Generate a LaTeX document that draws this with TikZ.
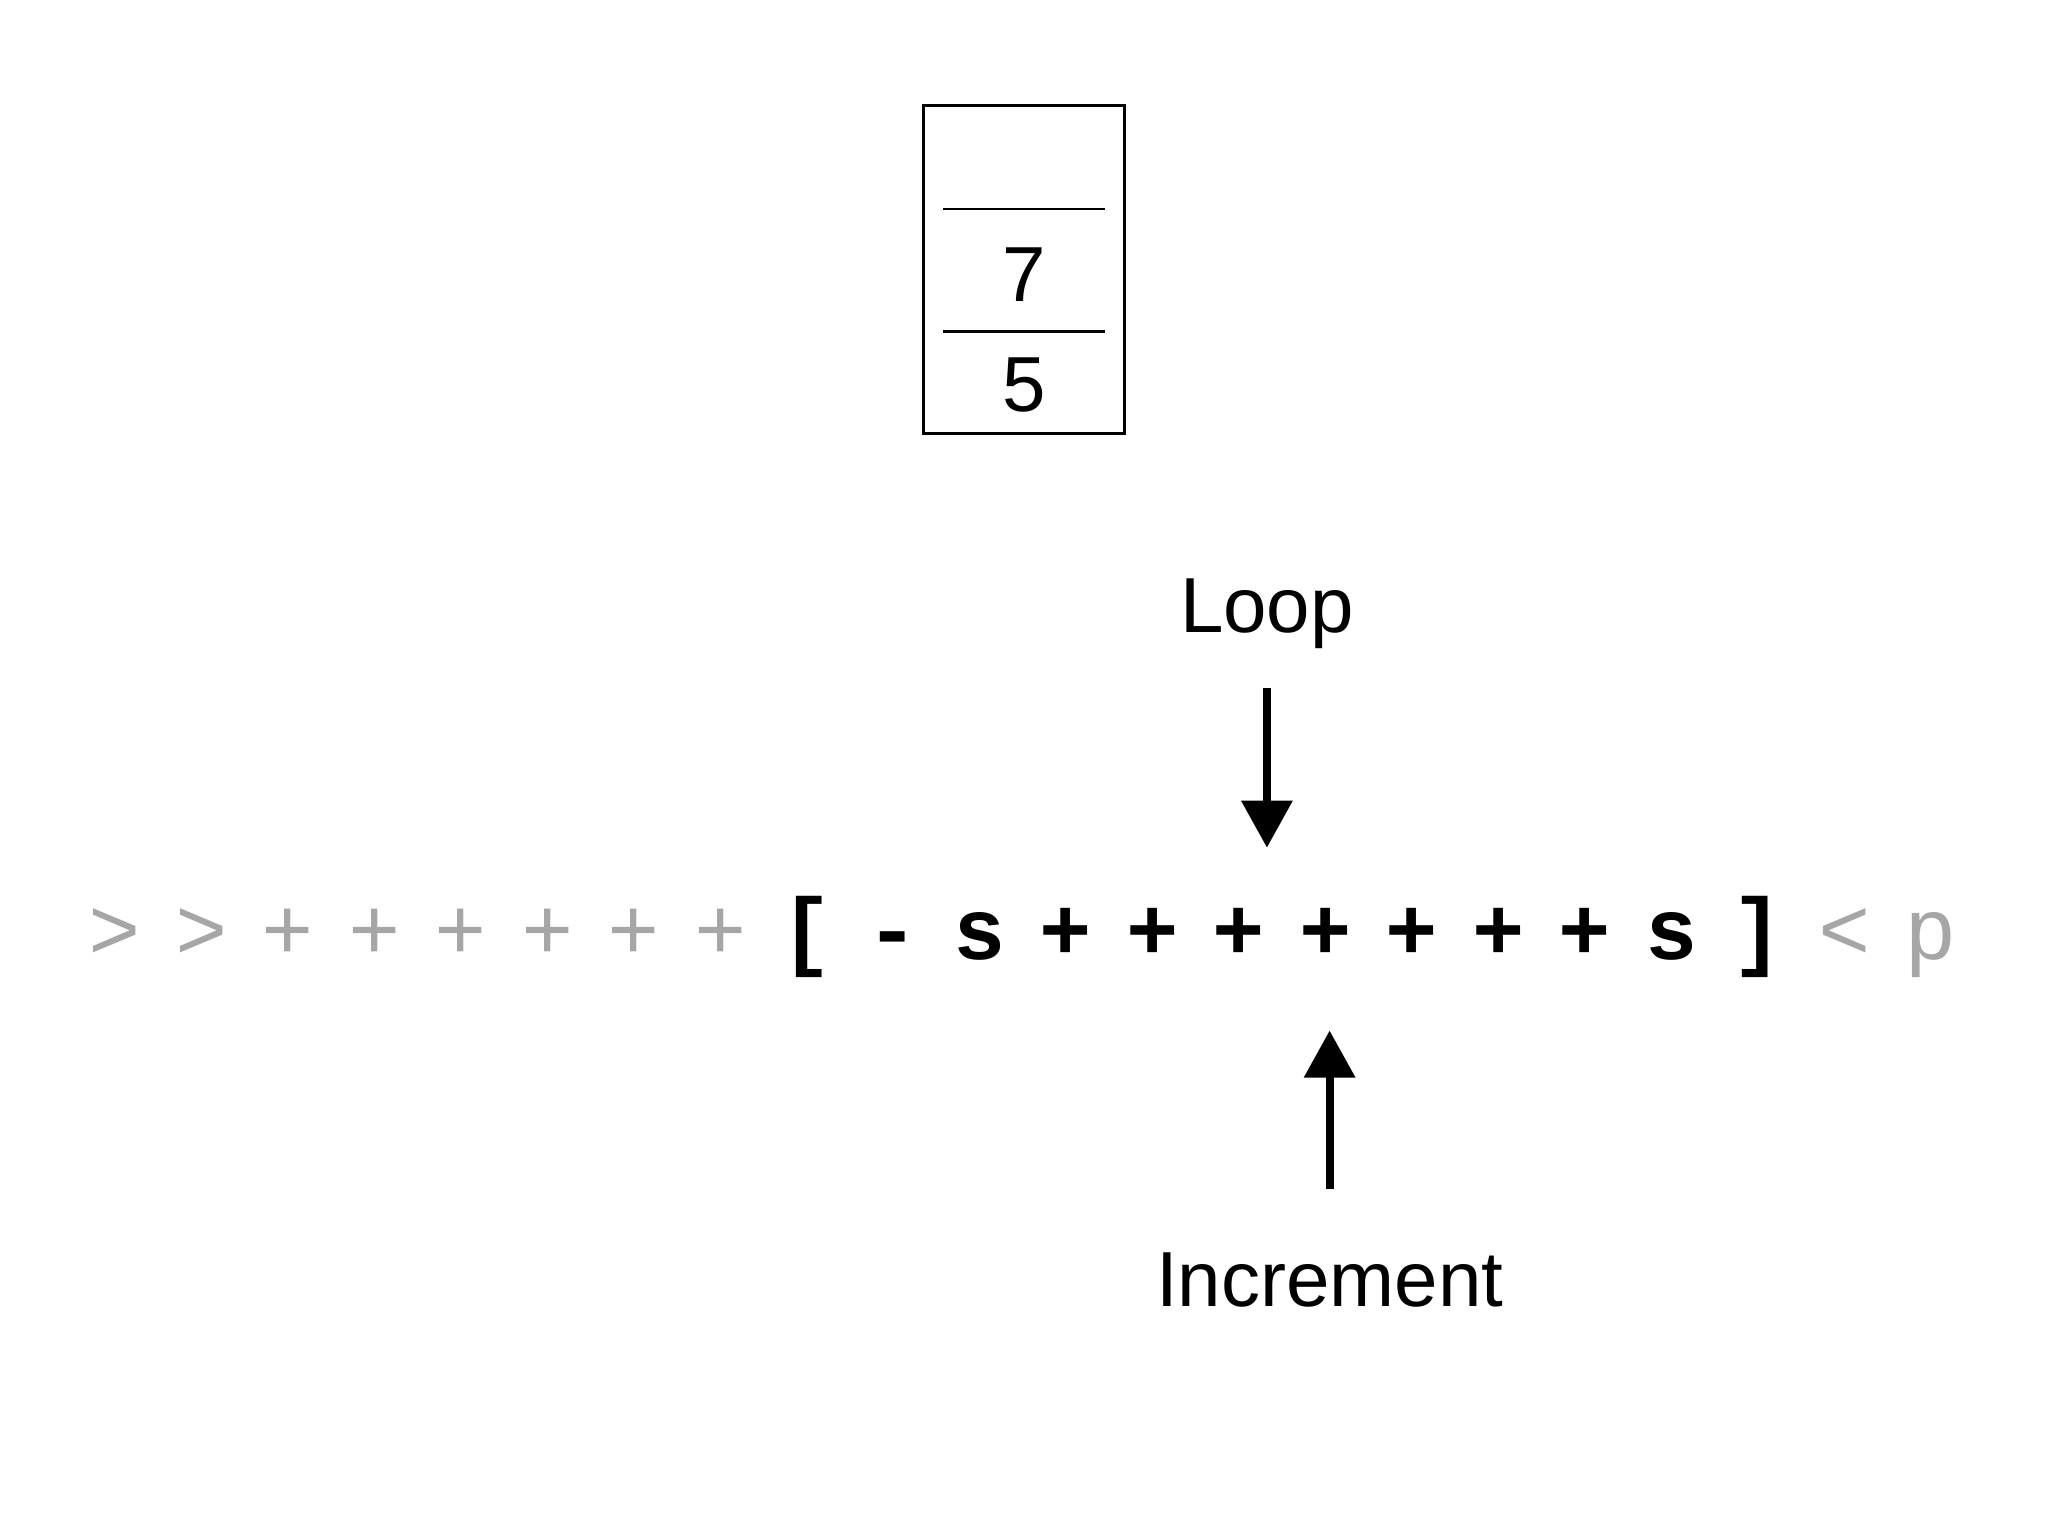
\documentclass[tikz,border=0pt]{standalone}
\usepackage{fontspec}
\setmainfont{Liberation Sans}
\newfontfamily\codefont{Liberation Mono}
\usetikzlibrary{arrows.meta}
\begin{document}
\begin{tikzpicture}[x=0.01cm,y=-0.01cm,
  lbl/.style={font=\fontsize{17}{20}\selectfont},
  cg/.style={font=\codefont\fontsize{19}{22}\selectfont, text=gray!70},
  cb/.style={font=\codefont\bfseries\fontsize{19}{22}\selectfont, text=black},
  bigarrow/.style={line width=0.06cm,-{Triangle[width=0.38cm,length=0.36cm]}}]
\useasboundingbox (0,0) rectangle (1568,1176);
\draw[line width=0.02cm] (707,81) rectangle (861,332);
\draw[line width=0.02cm] (722,160) -- (846,160);
\draw[line width=0.02cm] (722,254) -- (846,254);
\node[lbl] (seven) at (784,210) {7};
\node[lbl] (five) at (784,295) {5};
\node[lbl] (loop) at (970,470) {Loop};
\node[lbl] (inc) at (1018,980) {Increment};
\coordinate (la) at (970,527);
\coordinate (lb) at (970,649);
\coordinate (ia) at (1018,910);
\coordinate (ib) at (1018,789);
\draw[bigarrow] (la) -- (lb);
\draw[bigarrow] (ia) -- (ib);
\foreach \i/\c/\s in {0/>/cg,1/>/cg,2/+/cg,3/+/cg,4/+/cg,5/+/cg,6/+/cg,7/+/cg,8/[/cb,9/-/cb,10/s/cb,11/+/cb,12/+/cb,13/+/cb,14/+/cb,15/+/cb,16/+/cb,17/+/cb,18/s/cb,19/]/cb,20/</cg,21/p/cg}
  \node[\s,anchor=base] (c\i) at ({88+66.2*\i},735) {\c};
\end{tikzpicture}
\end{document}
